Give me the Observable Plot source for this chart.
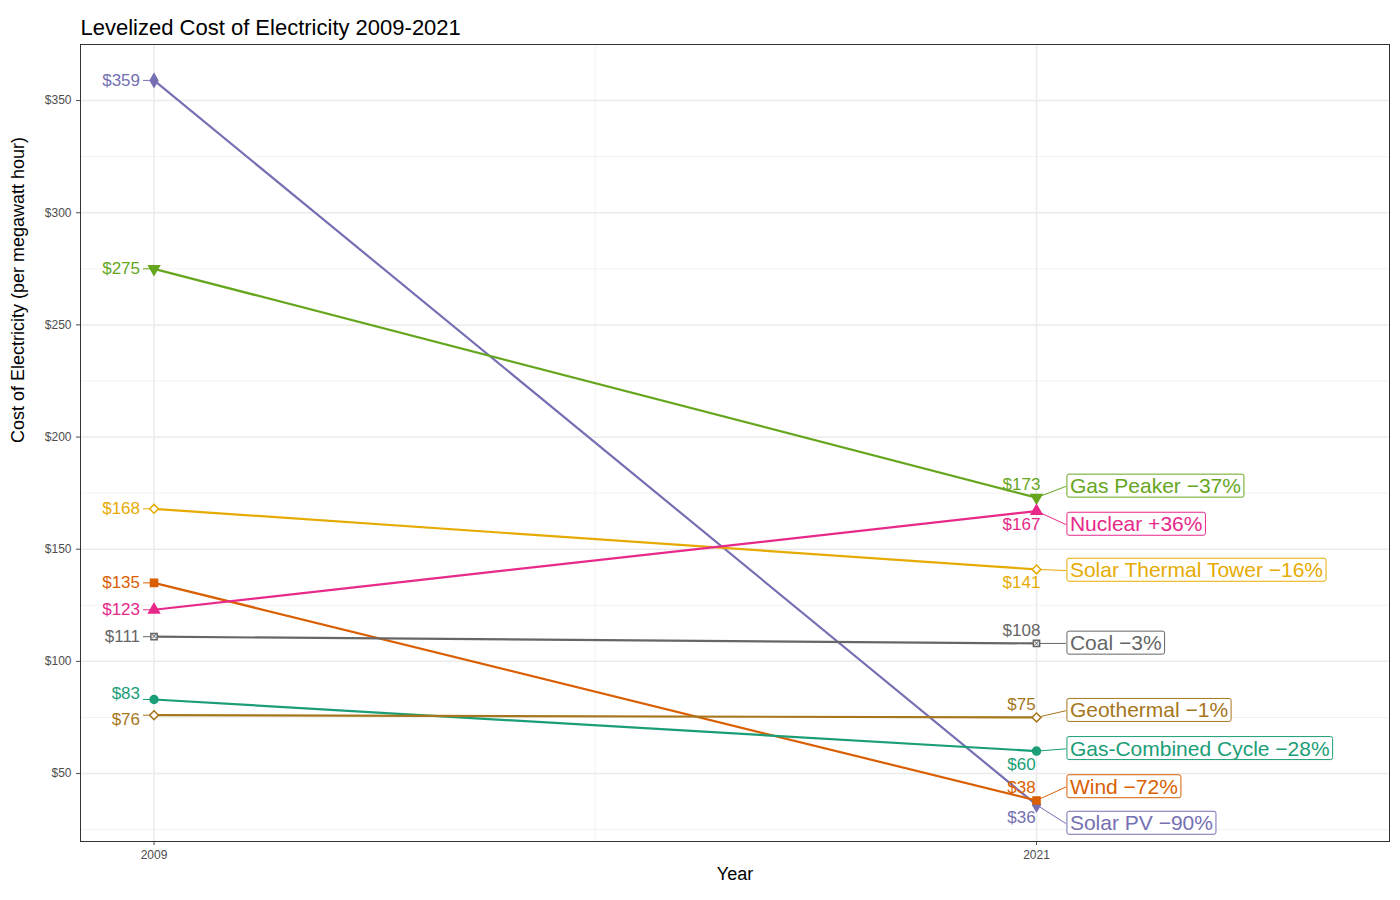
<!DOCTYPE html>
<html>
<head>
<meta charset="utf-8">
<script src="https://cdn.jsdelivr.net/npm/d3@7"></script>
<script src="https://cdn.jsdelivr.net/npm/@observablehq/plot@0.6"></script>
<style>
  body { margin: 0; background: #fff; }
  #chart { font-family: "Liberation Sans", Arial, sans-serif; }
</style>
</head>
<body>
<div id="chart"></div>
<script>
"use strict";

// chart data
const sources = ["Solar PV", "Gas Peaker", "Solar Thermal Tower", "Wind", "Nuclear", "Coal", "Gas-Combined Cycle", "Geothermal"]
const cost2009 = [359, 275, 168, 135, 123, 111, 83, 76]
const cost2021 = [36, 173, 141, 38, 167, 108, 60, 75]
const change = ["\u221290%", "\u221237%", "\u221216%", "\u221272%", "+36%", "\u22123%", "\u221228%", "\u22121%"]
const colors = ["#7570b3", "#66a61e", "#e6ab02", "#d95f02", "#e7298a", "#666666", "#1b9e77", "#a6761d"]
const symbols = ["diamond", "triangle", "diamond2", "square", "triangle", "square2", "circle", "diamond2"]
// label spots on the right (value units), after repel
const labelY = [27.7, 178, 140.5, 44, 161, 108, 61, 78]
// is the 2021 value label above the point?
const above2021 = [false, true, false, true, false, true, false, true]

const rows = []
sources.forEach((s, i) => {
  rows.push({source: s, year: 2009, cost: cost2009[i], i})
  rows.push({source: s, year: 2021, cost: cost2021[i], i})
})
const right = sources.map((s, i) => ({source: s, i, cost: cost2021[i], ly: labelY[i], label: `${s} ${change[i]}`}))

const color = d => colors[d.i]
const fontSize = 17
const left = rows.filter(d => d.year === 2009)
const end = rows.filter(d => d.year === 2021)

const plot = Plot.plot({
  width: 1400,
  height: 900,
  marginLeft: 80,
  marginRight: 11,
  marginTop: 44,
  marginBottom: 59,
  style: {fontFamily: "Liberation Sans, Arial, sans-serif", background: "#fff"},
  x: {domain: [2008, 2025.8], label: null},
  y: {domain: [19.7, 375], label: null},
  marks: [
    Plot.gridY([25, 75, 125, 175, 225, 275, 325, 375], {stroke: "#f2f2f2", strokeOpacity: 1, strokeWidth: 1}),
    Plot.gridX([2015], {stroke: "#f2f2f2", strokeOpacity: 1, strokeWidth: 1}),
    Plot.gridY([50, 100, 150, 200, 250, 300, 350], {stroke: "#ebebeb", strokeOpacity: 1, strokeWidth: 1.5}),
    Plot.gridX([2009, 2021], {stroke: "#ebebeb", strokeOpacity: 1, strokeWidth: 1.5}),
    Plot.axisY([50, 100, 150, 200, 250, 300, 350], {tickFormat: d => "$" + d, fontSize: 12, color: "#4d4d4d", tickSize: 4, label: null}),
    Plot.axisX([2009, 2021], {tickFormat: d => String(d), fontSize: 12, color: "#4d4d4d", tickSize: 4, label: null}),
    Plot.text(["Cost of Electricity (per megawatt hour)"], {frameAnchor: "left", rotate: -90, dx: -62, fontSize: 18, fill: "#000"}),
    Plot.text(["Year"], {frameAnchor: "bottom", dy: 38, fontSize: 18, fill: "#000"}),
    Plot.line(rows, {x: "year", y: "cost", z: "source", stroke: color, strokeWidth: 2.2}),
    // leader lines to the right labels
    Plot.link(right, {x1: 2021, y1: "cost", x2: 2021.4, y2: "ly", stroke: color, strokeWidth: 1}),
    Plot.link(left, {x1: 2009, y1: "cost", x2: 2008.85, y2: "cost", stroke: color, strokeWidth: 1}),
    Plot.dot(rows, {x: "year", y: "cost", symbol: d => symbols[d.i], stroke: color,
      fill: d => symbols[d.i].endsWith("2") ? "white" : colors[d.i], r: 4, rotate: d => d.i === 1 ? 180 : 0}),
    Plot.text(rows.filter(d => d.i === 5), {x: "year", y: "cost", text: () => "\u00d7", fill: "#666", fontSize: 11}),
    Plot.text(left.filter(d => d.i < 6), {x: "year", y: "cost", text: d => "$" + d.cost, fill: color, textAnchor: "end", dx: -14, fontSize}),
    Plot.text(left.filter(d => d.i === 6), {x: "year", y: "cost", text: d => "$" + d.cost, fill: color, textAnchor: "end", dx: -14, dy: -6, fontSize}),
    Plot.text(left.filter(d => d.i === 7), {x: "year", y: "cost", text: d => "$" + d.cost, fill: color, textAnchor: "end", dx: -14, dy: 4, fontSize}),
    Plot.text(end.filter(d => above2021[d.i]), {x: "year", y: "cost", text: d => "$" + d.cost, fill: color, dx: -15, dy: -13, fontSize}),
    Plot.text(end.filter(d => !above2021[d.i]), {x: "year", y: "cost", text: d => "$" + d.cost, fill: color, dx: -15, dy: 13, fontSize}),
    Plot.text(right, {x: 2021.4, y: "ly", text: "label", fill: color, textAnchor: "start", dx: 4, fontSize: 21, className: "boxlab"}),
    Plot.frame({stroke: "#333", strokeWidth: 1}),
    Plot.text(["Levelized Cost of Electricity 2009-2021"], {frameAnchor: "top-left", dy: -25, fontSize: 22, fill: "#000", textAnchor: "start"})
  ]
})
document.querySelector("#chart").append(plot)

// boxes behind the right labels
d3.select(plot).selectAll("g.boxlab text").each(function() {
  const b = this.getBBox()
  d3.select(this.parentNode).insert("rect", () => this)
    .attr("transform", this.getAttribute("transform"))
    .attr("x", b.x - 3).attr("y", b.y).attr("width", b.width + 6).attr("height", b.height)
    .attr("rx", 2).attr("fill", "white").attr("stroke", this.getAttribute("fill")).attr("stroke-width", 1)
})
</script>
</body>
</html>
